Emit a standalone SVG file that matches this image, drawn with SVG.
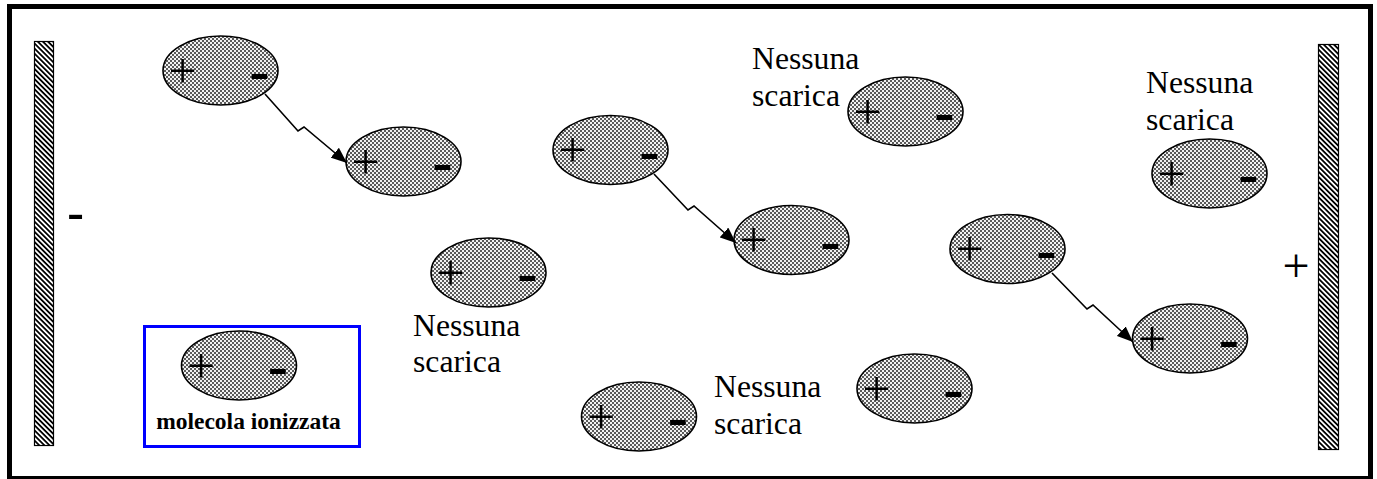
<svg xmlns="http://www.w3.org/2000/svg" width="1377" height="479" viewBox="0 0 1377 479">
<defs>
<pattern id="dots" width="4" height="4" patternUnits="userSpaceOnUse">
<rect width="4" height="4" fill="#5a5a5a"/>
<rect x="0" y="0" width="2" height="2" fill="#f2f2f2"/>
<rect x="2" y="2" width="2" height="2" fill="#f2f2f2"/>
</pattern>
<pattern id="hatch" width="3.6" height="3.6" patternUnits="userSpaceOnUse" patternTransform="rotate(-45)">
<rect width="3.6" height="3.6" fill="#ffffff"/>
<rect width="1.8" height="3.6" fill="#000000"/>
</pattern>
<marker id="arr" markerUnits="userSpaceOnUse" markerWidth="17" markerHeight="13" refX="16" refY="6.5" orient="auto">
<path d="M0,0 L16,6.5 L0,13 z" fill="#000"/>
</marker>
</defs>
<style>
.mol{fill:url(#dots);stroke:#000;stroke-width:1.6}
.plus{font-family:"Liberation Serif",serif;font-size:50px;text-anchor:middle;fill:#000}
.minus{font-family:"Liberation Sans",sans-serif;font-size:64px;text-anchor:middle;fill:#000}
.lbl{font-family:"Liberation Serif",serif;font-size:31.7px;fill:#000}
.plate{fill:url(#hatch);stroke:#000;stroke-width:1.2}
.conn{fill:none;stroke:#000;stroke-width:1.6;marker-end:url(#arr)}
</style>
<rect x="0" y="0" width="1377" height="479" fill="#ffffff"/>
<g id="frame"><rect x="9.5" y="6.5" width="1361" height="472" fill="none" stroke="#000" stroke-width="5"/></g>
<g id="plate-left"><rect class="plate" x="34.5" y="41.5" width="19" height="404"/>
<text x="75.5" y="231" font-family="Liberation Sans, sans-serif" font-size="53" text-anchor="middle">-</text></g>
<g id="plate-right"><rect class="plate" x="1318.5" y="44.5" width="20" height="405"/>
<text x="1296" y="282" font-family="Liberation Serif, serif" font-size="48" text-anchor="middle">+</text></g>

<g id="m1"><ellipse class="mol" cx="220.5" cy="70.5" rx="57.5" ry="34.5"/><text class="plus" x="182.5" y="87.5">+</text><text class="minus" x="259.5" y="94">-</text></g>
<g id="m2"><ellipse class="mol" cx="403.5" cy="161.5" rx="57.5" ry="34.5"/><text class="plus" x="365.5" y="178.5">+</text><text class="minus" x="442.5" y="185">-</text></g>
<g id="m3"><ellipse class="mol" cx="610.5" cy="150" rx="57.5" ry="34.5"/><text class="plus" x="572.5" y="167">+</text><text class="minus" x="649.5" y="173.5">-</text></g>
<g id="m4"><ellipse class="mol" cx="791.5" cy="240" rx="57.5" ry="34.5"/><text class="plus" x="753.5" y="257">+</text><text class="minus" x="830.5" y="263.5">-</text></g>
<g id="m5"><ellipse class="mol" cx="905.5" cy="111.5" rx="57.5" ry="34.5"/><text class="plus" x="867.5" y="128.5">+</text><text class="minus" x="944.5" y="135">-</text></g>
<g id="m6"><ellipse class="mol" cx="1209.5" cy="173.5" rx="57.5" ry="34.5"/><text class="plus" x="1171.5" y="190.5">+</text><text class="minus" x="1248.5" y="197">-</text></g>
<g id="m7"><ellipse class="mol" cx="1007.5" cy="249" rx="57.5" ry="34.5"/><text class="plus" x="969.5" y="266">+</text><text class="minus" x="1046.5" y="272.5">-</text></g>
<g id="m8"><ellipse class="mol" cx="1190" cy="338.5" rx="57.5" ry="34.5"/><text class="plus" x="1152" y="355.5">+</text><text class="minus" x="1229" y="362">-</text></g>
<g id="m9"><ellipse class="mol" cx="488.5" cy="272.5" rx="57.5" ry="34.5"/><text class="plus" x="450.5" y="289.5">+</text><text class="minus" x="527.5" y="296">-</text></g>
<g id="m10"><ellipse class="mol" cx="639" cy="416.5" rx="57.5" ry="34.5"/><text class="plus" x="601" y="433.5">+</text><text class="minus" x="678" y="440">-</text></g>
<g id="m11"><ellipse class="mol" cx="914.5" cy="388.5" rx="57.5" ry="34.5"/><text class="plus" x="876.5" y="405.5">+</text><text class="minus" x="953.5" y="412">-</text></g>

<g id="legend">
<rect x="144.5" y="326.5" width="215" height="120" fill="none" stroke="#0000ff" stroke-width="3"/>
<ellipse class="mol" cx="239" cy="365.5" rx="57.5" ry="34.5"/><text class="plus" x="201" y="382.5">+</text><text class="minus" x="278" y="389">-</text>
<text x="248.5" y="429" font-family="Liberation Serif, serif" font-weight="bold" font-size="23.5" text-anchor="middle">molecola ionizzata</text>
</g>

<g id="label1"><text class="lbl" x="752" y="69">Nessuna</text><text class="lbl" x="752" y="106">scarica</text></g>
<g id="label2"><text class="lbl" x="1146" y="93">Nessuna</text><text class="lbl" x="1146" y="129.5">scarica</text></g>
<g id="label3"><text class="lbl" x="413" y="336">Nessuna</text><text class="lbl" x="413" y="372">scarica</text></g>
<g id="label4"><text class="lbl" x="714" y="397">Nessuna</text><text class="lbl" x="714" y="434">scarica</text></g>

<g id="connectors">
<polyline class="conn" points="265,94 298,131 304,127 347,163"/>
<polyline class="conn" points="654,174 688,210 694,206 736,243"/>
<polyline class="conn" points="1052,273 1087,309 1093,305 1133,342"/>
</g>
</svg>
